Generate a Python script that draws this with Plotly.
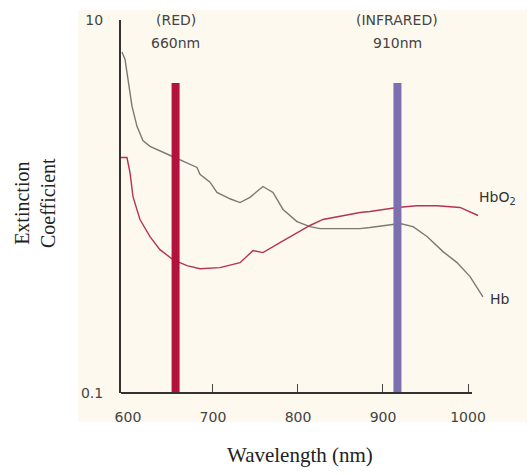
import plotly.graph_objects as go

# ---- data ----
hb_wl = [592.9, 596.5, 600.0, 604.7, 610.6, 617.6, 625.9, 637.6, 651.8, 664.7, 681.2, 684.7,
         696.5, 704.7, 720.0, 731.8, 743.5, 758.8, 770.6, 782.4, 798.8, 814.1, 825.9, 849.4,
         872.9, 884.7, 902.4, 920.0, 935.3, 951.8, 970.6, 987.1, 1002.4, 1017.6]
hb_val = [6.73, 6.17, 4.82, 3.45, 2.69, 2.26, 2.10, 1.98, 1.86, 1.75, 1.62, 1.49,
          1.35, 1.19, 1.10, 1.05, 1.12, 1.28, 1.19, 0.964, 0.830, 0.780, 0.761, 0.761,
          0.761, 0.771, 0.791, 0.811, 0.780, 0.690, 0.573, 0.500, 0.421, 0.328]

hbo2_wl = [591.8, 598.8, 602.4, 605.9, 614.1, 625.9, 637.6, 652.9, 669.4, 684.7, 708.2, 731.8,
           747.1, 758.8, 778.8, 798.8, 814.1, 829.4, 849.4, 872.9, 884.7, 916.5, 940.0, 963.5,
           990.6, 1011.8]
hbo2_val = [1.83, 1.83, 1.52, 1.13, 0.851, 0.690, 0.587, 0.519, 0.482, 0.464, 0.470, 0.500,
            0.580, 0.566, 0.640, 0.725, 0.791, 0.852, 0.884, 0.929, 0.940, 0.988, 1.01, 1.01,
            0.988, 0.895]

led_wl = [656, 917]          # drawn positions of the LED lines
led_labels = ["(RED)", "(INFRARED)"]
led_nm = ["660nm", "910nm"]
led_top = [4.6, 4.6]
led_colors = ["#B3123F", "#7C70AE"]

curve_labels = ["HbO<sub>2</sub>", "Hb"]

x_ticks = [600, 700, 800, 900, 1000]
y_ticks = [0.1, 10]
y_ticktext = ["0.1", "10"]

x_min, x_axis_end, x_max = 591.8, 1004.7, 1024.7

SANS = "DejaVu Sans, Arial"
SERIF = "Liberation Serif, Times New Roman"

fig = go.Figure()

# cream panel behind everything
fig.add_shape(type="rect", xref="paper", yref="paper",
              x0=-0.1168, x1=1.103, y0=-0.078, y1=1.027,
              fillcolor="#FDF9EE", line_width=0, layer="below")

fig.add_trace(go.Scatter(x=hb_wl, y=hb_val, mode="lines",
                         line=dict(color="#7A7A74", width=1.4), showlegend=False))
fig.add_trace(go.Scatter(x=hbo2_wl, y=hbo2_val, mode="lines",
                         line=dict(color="#B33550", width=1.4), showlegend=False))

lab_font = dict(family=SANS, size=14, color="#444")
for wl, top, col, lab, nm in zip(led_wl, led_top, led_colors, led_labels, led_nm):
    fig.add_trace(go.Scatter(x=[wl, wl], y=[0.1, top], mode="lines",
                             line=dict(color=col, width=8), showlegend=False))
    fig.add_annotation(x=wl, y=1.0, xref="x", yref="paper", text=lab,
                       showarrow=False, yanchor="middle", font=lab_font)
    fig.add_annotation(x=wl, y=1.0, xref="x", yref="paper", text=nm, yshift=-23,
                       showarrow=False, yanchor="middle", font=lab_font)

# ticks at 700..1000 only (overlay axis)
fig.add_trace(go.Scatter(x=[x_min], y=[1], xaxis="x2", mode="markers",
                         marker=dict(opacity=0), showlegend=False, hoverinfo="skip"))

# x-axis line ending at 1000-ish
fig.add_shape(type="line", xref="x", yref="paper", x0=x_min, x1=x_axis_end, y0=0, y1=0,
              line=dict(color="#333", width=2))

# curve labels placed just right of the curve ends (paper coords)
fig.add_annotation(x=(477 - 121) / 368, y=(393 - 198) / 373, xref="paper", yref="paper",
                   text=curve_labels[0], showarrow=False, xanchor="left", yanchor="middle",
                   font=dict(family=SANS, size=14, color="#333"))
fig.add_annotation(x=(488 - 121) / 368, y=(393 - 299) / 373, xref="paper", yref="paper",
                   text=curve_labels[1], showarrow=False, xanchor="left", yanchor="middle",
                   font=dict(family=SANS, size=14, color="#333"))

# axis titles
fig.add_annotation(x=(300 - 121) / 368, y=-0.167, xref="paper", yref="paper",
                   text="Wavelength (nm)", showarrow=False, yanchor="middle",
                   font=dict(family=SERIF, size=21, color="#222"))
fig.add_annotation(x=(35 - 121) / 368, y=(393 - 203) / 373, xref="paper", yref="paper",
                   text="Extinction<br>Coefficient", showarrow=False, textangle=-90,
                   xanchor="center", yanchor="middle",
                   font=dict(family=SERIF, size=20, color="#222"))

fig.update_layout(
    width=531, height=475,
    margin=dict(l=121, r=42, t=20, b=82),
    paper_bgcolor="white", plot_bgcolor="#FDF9EE",
    xaxis=dict(range=[x_min, x_max], tickvals=x_ticks, showgrid=False, zeroline=False,
               showline=False, ticks="", ticklabelstandoff=14,
               tickfont=dict(family=SANS, size=14, color="#444")),
    xaxis2=dict(range=[x_min, x_max], overlaying="x", side="bottom", anchor="y",
                tickvals=[700, 800, 900, 1000], ticks="inside", ticklen=9, tickwidth=1,
                tickcolor="#444", showticklabels=False, showgrid=False, zeroline=False,
                showline=False),
    yaxis=dict(type="log", range=[-1, 1], tickvals=y_ticks, ticktext=y_ticktext,
               showgrid=False, zeroline=False, showline=True, linecolor="#333", linewidth=2,
               ticks="", ticklabelstandoff=13,
               tickfont=dict(family=SANS, size=14, color="#444")),
)

fig.write_html("out.html", config={"displayModeBar": False},
               post_script="document.body.style.margin='0';document.body.style.overflow='hidden';")
